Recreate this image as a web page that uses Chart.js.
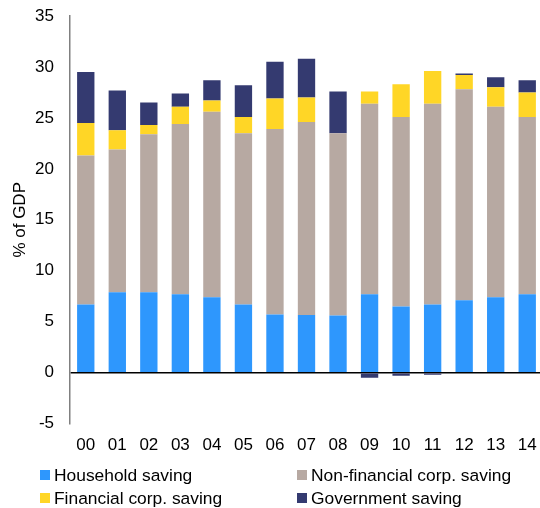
<!DOCTYPE html>
<html>
<head>
<meta charset="utf-8">
<script src="https://cdn.jsdelivr.net/npm/chart.js@4.4.1/dist/chart.umd.min.js"></script>
<style>
  body { margin: 0; background: #fff; }
  #wrap { position: relative; width: 540px; height: 508px; overflow: hidden; }
  #legend { position: absolute; left: 40px; top: 464px; width: 500px;
            display: grid; grid-template-columns: 257px 243px; row-gap: 1px;
            font-family: "Liberation Sans", Arial, sans-serif; font-size: 17.4px; color: #000; }
  .item { display: flex; align-items: center; height: 22px; white-space: nowrap; }
  .box { width: 10px; height: 10px; margin-right: 4px; }
</style>
</head>
<body>
<div id="wrap">
  <canvas id="myChart" width="543" height="508"></canvas>
  <div id="legend"></div>
</div>
<script>
// 연도 (2000 ~ 2014)
let years = ['00', '01', '02', '03', '04', '05', '06', '07', '08', '09', '10', '11', '12', '13', '14'];

// 부문별 저축 (% of GDP)
let household    = [6.7, 7.9, 7.9, 7.7, 7.4, 6.7, 5.7, 5.65, 5.6, 7.7, 6.5, 6.7, 7.1, 7.4, 7.7];
let nonFinancial = [14.6, 14.0, 15.5, 16.7, 18.2, 16.8, 18.2, 18.95, 17.9, 18.7, 18.6, 19.7, 20.7, 18.7, 17.4];
let financial    = [3.2, 1.9, 0.9, 1.7, 1.1, 1.6, 3.0, 2.4, 0.0, 1.2, 3.2, 3.2, 1.4, 1.9, 2.4];
let government   = [5.0, 3.9, 2.2, 1.3, 2.0, 3.1, 3.6, 3.8, 4.1, -0.5, -0.3, -0.2, 0.15, 1.0, 1.2];

let yTicks = [-5, 0, 5, 10, 15, 20, 25, 30, 35];

// 범례 순서 = 쌓는 순서 (가계 -> 비금융 -> 금융 -> 정부)
let series = [
    { label: 'Household saving',             data: household,    color: '#2E97FD' },
    { label: 'Non-financial corp. saving',   data: nonFinancial, color: '#B7A9A2' },
    { label: 'Financial corp. saving',       data: financial,    color: '#FFD626' },
    { label: 'Government saving',            data: government,   color: '#343A70' }
];

let font = { family: "'Liberation Sans', Arial, sans-serif", size: 17 };

let ctx = document.getElementById("myChart");

let config = {
    type: 'bar',
    data: {
        labels: years,
        datasets: series.map(function (s) {
            return {
                label: s.label,
                data: s.data,
                backgroundColor: s.color,
                borderWidth: 0,
                barPercentage: 0.55,
                categoryPercentage: 1.0
            };
        })
    },
    options: {
        responsive: false,
        animation: false,
        layout: { padding: { top: 16, right: 0, bottom: 48, left: 0 } },
        plugins: {
            legend: { display: false },
            tooltip: { enabled: false }
        },
        scales: {
            x: {
                stacked: true,
                grid: { display: false },
                border: { display: false },
                ticks: { color: '#000', font: font, padding: 4, maxRotation: 0 }
            },
            y: {
                stacked: true,
                min: -5,
                max: 35,
                afterBuildTicks: function (scale) {
                    scale.ticks = yTicks.map(function (v) { return { value: v }; });
                },
                afterFit: function (scale) {
                    scale.width = 70;
                    scale.paddingTop = 0;
                    scale.paddingBottom = 0;
                },
                grid: {
                    drawTicks: false,
                    lineWidth: 1.5,
                    color: function (c) { return c.tick && c.tick.value === 0 ? '#000' : 'rgba(0,0,0,0)'; }
                },
                border: { color: '#808080', width: 1.5 },
                ticks: { color: '#000', font: font, padding: 16 },
                title: { display: true, text: '% of GDP', color: '#000', font: font, padding: { top: 10, bottom: 0 } }
            }
        }
    }
};

let myChart = new Chart(ctx, config);

// 범례 (2열)
let legend = document.getElementById("legend");
series.forEach(function (s) {
    let item = document.createElement('div');
    item.className = 'item';
    item.innerHTML = '<span class="box" style="background:' + s.color + '"></span><span>' + s.label + '</span>';
    legend.appendChild(item);
});
</script>
</body>
</html>
